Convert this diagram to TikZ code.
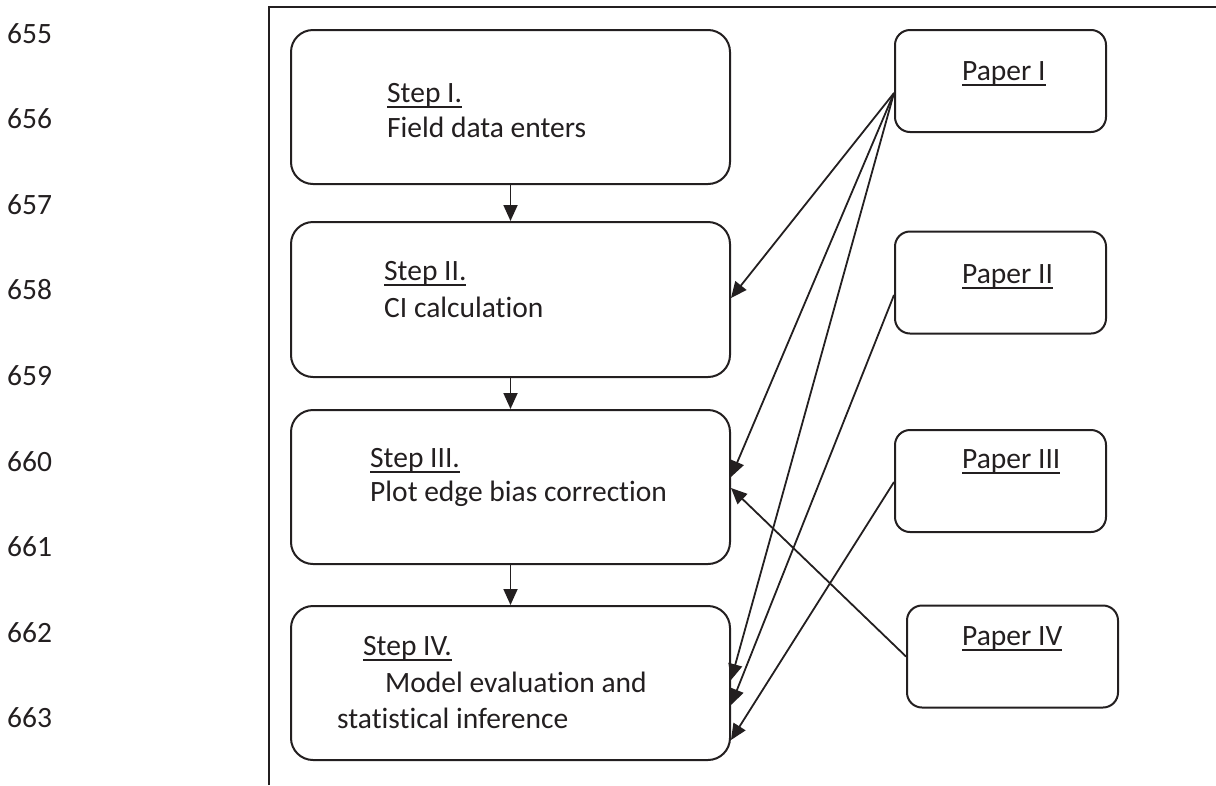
\documentclass[tikz,border=0pt]{standalone}
\usepackage{fontspec}
\setmainfont{Carlito}[Ligatures=CommonOff]
\usetikzlibrary{arrows.meta}
\definecolor{ink}{HTML}{231F20}
\newcommand{\myul}[1]{\leavevmode\setbox0\hbox{#1}\rlap{\rule[-0.2em]{\wd0}{0.07em}}\box0}
\newcommand{\tiz}{t\kern0pt i}
\begin{document}
\begin{tikzpicture}[x=1pt,y=-1pt,
  stepbox/.style={draw=ink, line width=2pt, rounded corners=22pt, minimum width=439pt, minimum height=154pt, inner sep=0pt},
  paperbox/.style={draw=ink, line width=2pt, rounded corners=15pt, minimum width=211pt, minimum height=102pt, inner sep=0pt},
  lbl/.style={anchor=base west, inner sep=0pt, text=ink, font=\fontsize{29.5}{35}\selectfont},
  conn/.style={draw=ink, line width=1.8pt, -{Triangle[length=16pt,width=14pt]}}
]
\useasboundingbox (0,0) rectangle (1216,785);
% frame
\draw[ink, line width=2pt] (269,785) -- (269,7) -- (1216,7);
% line numbers
\foreach \n [count=\i from 0] in {655,656,657,658,659,660,661,662,663}
  \node[lbl] (ln\n) at (7,{43+85.6*\i}) {\n};
% step boxes
\node[stepbox] (S1) at (510.5,107) {};
\node[stepbox, minimum height=155pt] (S2) at (510.5,299.5) {};
\node[stepbox] (S3) at (510.5,487) {};
\node[stepbox] (S4) at (510.5,683) {};
% paper boxes
\node[paperbox] (P1) at (1000.5,81) {};
\node[paperbox] (P2) at (1000.5,282.5) {};
\node[paperbox] (P3) at (1000.5,481) {};
\node[paperbox] (P4) at (1012.5,656.5) {};
% texts
\node[lbl] (t1a) at (387,102) {\myul{Step I.}};
\node[lbl] (t1b) at (387,137) {Field data enters};
\node[lbl] (t2a) at (384,280) {\myul{Step II.}};
\node[lbl] (t2b) at (384,317) {CI calcula\tiz on};
\node[lbl] (t3a) at (370,467) {\myul{Step III.}};
\node[lbl] (t3b) at (370,501) {Plot edge bias correc\tiz on};
\node[lbl] (t4a) at (363,655) {\myul{Step IV.}};
\node[lbl] (t4b) at (385,692) {Model evalua\tiz on and};
\node[lbl] (t4c) at (337,728) {statis\tiz cal inference};
\node[lbl] (p1t) at (962,80) {\myul{Paper I}};
\node[lbl] (p2t) at (962,283) {\myul{Paper II}};
\node[lbl] (p3t) at (962,468) {\myul{Paper III}};
\node[lbl] (p4t) at (962,645) {\myul{Paper IV}};
% vertical flow
\draw[conn] (S1.south) -- (S2.north);
\draw[conn] (S2.south) -- (S3.north);
\draw[conn] (S3.south) -- (S4.north);
% paper connectors
\draw[conn] ([yshift=-12pt]P1.west) -- ([yshift=1.5pt]S2.east);
\draw[conn] ([yshift=-12pt]P1.west) -- ([yshift=10pt]S3.east);
\draw[conn] ([yshift=-12pt]P1.west) -- ([yshift=3pt]S4.east);
\draw[conn] ([yshift=-12.5pt]P2.west) -- ([yshift=-22pt]S4.east);
\draw[conn] ([yshift=-1pt]P3.west) -- ([yshift=-57pt]S4.east);
\draw[conn] (P4.west) -- ([yshift=-1pt]S3.east);
\end{tikzpicture}
\end{document}
